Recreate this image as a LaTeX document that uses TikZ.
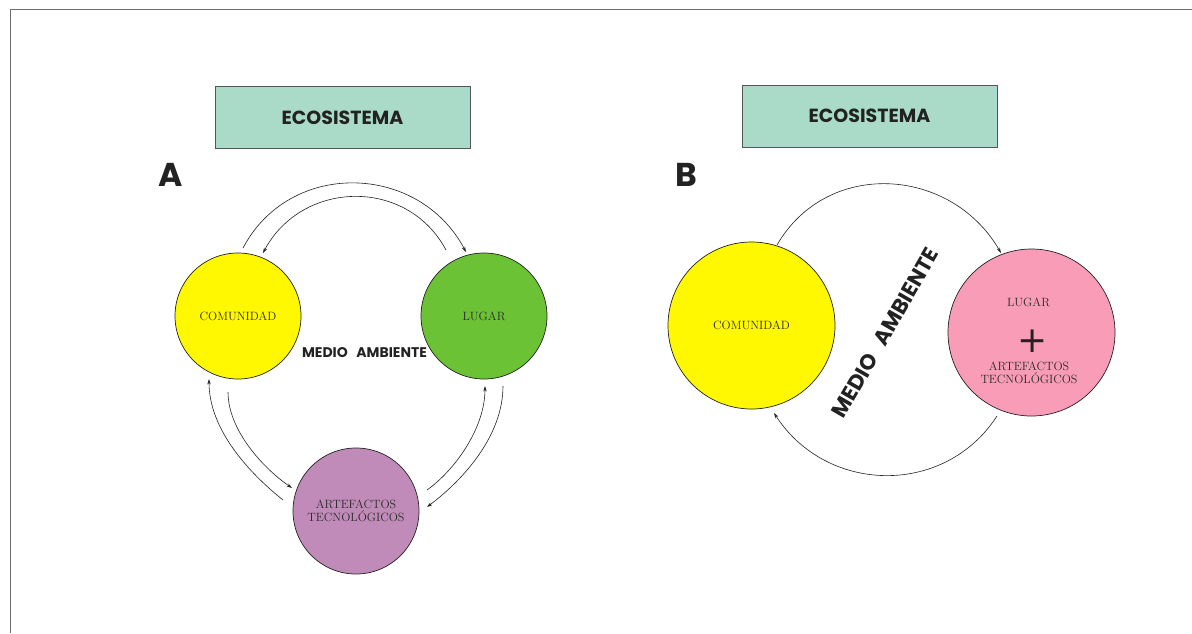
\documentclass[tikz,border=0pt]{standalone}
\usepackage{fontspec}
\usetikzlibrary{arrows.meta}
\newfontfamily\geo{Poppins}
\newfontfamily\dejavu{DejaVu Sans}
\definecolor{framegray}{HTML}{6E6E6E}
\definecolor{boxteal}{HTML}{AADBC8}
\definecolor{boxedge}{HTML}{555555}
\definecolor{inkdark}{HTML}{222222}
\definecolor{labelgray}{HTML}{2C2C2C}
\definecolor{comyellow}{HTML}{FFF800}
\definecolor{lugargreen}{HTML}{6BC235}
\definecolor{artpurple}{HTML}{C18BB9}
\definecolor{lugarpink}{HTML}{F99CB8}
\begin{document}
\begin{tikzpicture}[x=1pt,y=-1pt,
  frameline/.style={draw=framegray,line width=1.4pt},
  titlebox/.style={draw=boxedge,line width=0.8pt,fill=boxteal,
    minimum width=255pt,minimum height=62pt,inner sep=0pt,text=inkdark,
    font=\geo\bfseries\fontsize{19}{19}\selectfont},
  panelletter/.style={inner sep=0pt,text=inkdark,
    font=\geo\bfseries\fontsize{33}{33}\selectfont},
  disc/.style={circle,draw=inkdark,line width=0.7pt,inner sep=0pt,
    align=center,text=labelgray,
    font=\rmfamily\fontsize{12}{13.5}\selectfont},
  caption/.style={inner sep=0pt,align=center,text=labelgray,
    font=\rmfamily\fontsize{12}{12.5}\selectfont},
  envtext/.style={inner sep=0pt,text=inkdark,font=\geo\bfseries},
  flow/.style={draw=inkdark,line width=0.6pt,
    -{Stealth[length=5.5pt,width=3.4pt]}},
  ]
\useasboundingbox (0,0) rectangle (1192,633);

% page frame
\draw[frameline] (1192,9.5) -- (10.5,9.5) -- (10.5,633);

% ---------- panel A ----------
\node[titlebox] (titleA) at (342.5,117.5) {ECOSISTEMA};
\node[panelletter] (letA) at (171,175) {A};

\node[disc,fill=comyellow,minimum size=126pt] (comA) at (238,316) {COMUNIDAD};
\node[disc,fill=lugargreen,minimum size=126pt] (lugA) at (484,316) {LUGAR};
\node[disc,fill=artpurple,minimum size=126pt] (artA) at (356,511)
  {ARTEFACTOS\\TECNOLÓGICOS};

\node[envtext,font=\geo\bfseries\fontsize{14}{14}\selectfont] (envA)
  at (364.5,352.5) {MEDIO\hspace{0.4em} AMBIENTE};

% end points of the exchange arrows
\coordinate (ctA) at (243,248);   \coordinate (ltA) at (466,252);
\coordinate (lt2A) at (446,250);  \coordinate (ct2A) at (263,253);
\coordinate (alA) at (283,500);   \coordinate (cbA) at (209,379);
\coordinate (cb2A) at (228,392);  \coordinate (al2A) at (292,488);
\coordinate (ar2A) at (427,490);  \coordinate (lb2A) at (485,386);
\coordinate (lbA) at (503,386);   \coordinate (arA) at (427,507);

\draw[flow] (ctA) .. controls (290,159) and (419,163) .. (ltA);
\draw[flow] (lt2A) .. controls (407,177) and (302,180) .. (ct2A);
\draw[flow] (alA) .. controls (248,472) and (209,429) .. (cbA);
\draw[flow] (cb2A) .. controls (228,430) and (263,468) .. (al2A);
\draw[flow] (ar2A) .. controls (455,470) and (485,428) .. (lb2A);
\draw[flow] (lbA) .. controls (503,436) and (463,480) .. (arA);

% ---------- panel B ----------
\node[titlebox] (titleB) at (869.5,116) {ECOSISTEMA};
\node[panelletter] (letB) at (686,175) {B};

\node[disc,fill=comyellow,minimum size=167pt] (comB) at (751.5,325.5) {COMUNIDAD};
\node[disc,fill=lugarpink,minimum size=167pt] (lugB) at (1031.5,332.5) {};
\node[caption] (lugBtxt) at (1028.5,302) {LUGAR};
\node[inner sep=0pt,text=inkdark,font=\dejavu\fontsize{36}{36}\selectfont]
  (plusB) at (1033,341) {+};
\node[caption] (artBtxt) at (1029,373) {ARTEFACTOS\\TECNOLÓGICOS};

\node[envtext,font=\geo\bfseries\fontsize{21.5}{21.5}\selectfont,rotate=60]
  (envB) at (885,333) {MEDIO\hspace{0.4em} AMBIENTE};

\coordinate (ctB) at (777,245);  \coordinate (ltB) at (1001,253);
\coordinate (lbB) at (997,416);  \coordinate (cbB) at (774,413);

\draw[flow] (ctB) .. controls (827,158.5) and (951,166.5) .. (ltB);
\draw[flow] (lbB) .. controls (944.5,497) and (826.5,494) .. (cbB);
\end{tikzpicture}
\end{document}
